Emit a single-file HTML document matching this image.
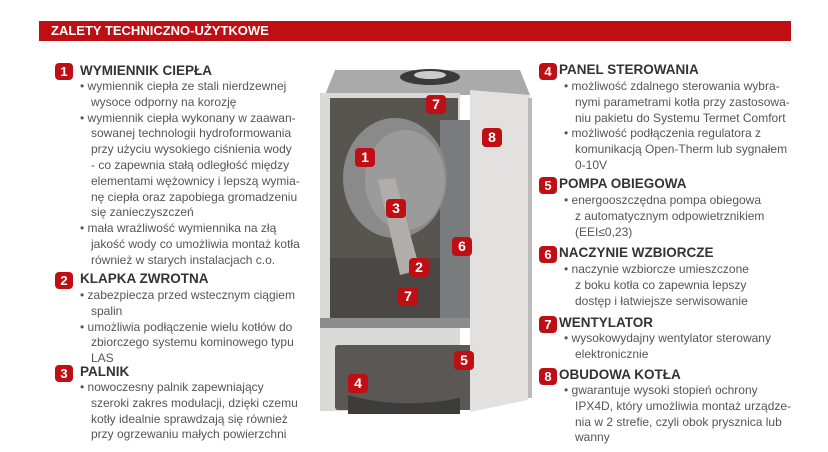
<!DOCTYPE html>
<html><head><meta charset="utf-8"><style>
body{margin:0;width:828px;height:452px;background:#fff;position:relative;overflow:hidden;font-family:"Liberation Sans",sans-serif;}
.bar{position:absolute;left:39px;top:21px;width:752px;height:20px;background:#c00f14;color:#fff;font-weight:bold;font-size:13px;line-height:20px;padding-left:12px;box-sizing:border-box;}
.h{position:absolute;font-weight:bold;font-size:13.5px;color:#333;line-height:16px;white-space:nowrap}
.b{position:absolute;width:18px;height:17px;background:#c00f14;border-radius:4px;color:#fff;font-weight:bold;font-size:13px;text-align:center;line-height:17px}
.t{position:absolute;font-size:12px;color:#555;line-height:15.8px;white-space:nowrap}
.t div{padding-left:11px;text-indent:-11px}
svg{position:absolute;left:0;top:0}
.m{position:absolute;width:20px;height:19px;background:#c00f14;border-radius:4px;color:#fff;font-weight:bold;font-size:14px;text-align:center;line-height:19px}
</style></head><body>
<div class="bar">ZALETY TECHNICZNO-UŻYTKOWE</div>

<svg width="828" height="452">
<path d="M325 95 L335 70 L520 70 L530 95 Z" fill="#a9aaa9"/>
<ellipse cx="430" cy="77" rx="30" ry="8" fill="#3a3a3a"/><ellipse cx="430" cy="75" rx="16" ry="4" fill="#ccc"/>
<rect x="320" y="93" width="140" height="318" fill="#d9d9d8"/>
<rect x="330" y="98" width="128" height="160" fill="#585450"/>
<rect x="330" y="258" width="128" height="60" fill="#4a4744"/>
<rect x="440" y="120" width="34" height="205" fill="#7a7b7c"/>
<ellipse cx="395" cy="178" rx="52" ry="60" fill="#8a8a8a"/>
<ellipse cx="405" cy="180" rx="40" ry="50" fill="#9b9b9b"/>
<path d="M378 180 L395 178 L420 270 L400 275 Z" fill="#b0aeab"/>
<rect x="320" y="318" width="155" height="10" fill="#8d8d8d"/>
<rect x="335" y="345" width="140" height="65" fill="#5a5754" rx="3"/>
<path d="M348 395 Q400 410 460 398 L460 414 L348 414 Z" fill="#3e3c3a"/>
<path d="M470 90 L530 95 L528 400 L470 412 Z" fill="#e3e1df"/>
<rect x="528" y="98" width="4" height="300" fill="#bbb"/>
</svg>
<div class="m" style="left:426px;top:95px">7</div>
<div class="m" style="left:482px;top:128px">8</div>
<div class="m" style="left:355px;top:148px">1</div>
<div class="m" style="left:386px;top:199px">3</div>
<div class="m" style="left:452px;top:237px">6</div>
<div class="m" style="left:409px;top:258px">2</div>
<div class="m" style="left:398px;top:287px">7</div>
<div class="m" style="left:454px;top:351px">5</div>
<div class="m" style="left:348px;top:374px">4</div>

<div class="b" style="left:55px;top:63px">1</div>
<div class="h" style="left:80px;top:63px">WYMIENNIK CIEPŁA</div>
<div class="t" style="left:80px;top:79px">
<div>• wymiennik ciepła ze stali nierdzewnej<br>wysoce odporny na korozję</div>
<div>• wymiennik ciepła wykonany w zaawan-<br>sowanej technologii hydroformowania<br>przy użyciu wysokiego ciśnienia wody<br>- co zapewnia stałą odległość między<br>elementami wężownicy i lepszą wymia-<br>nę ciepła oraz zapobiega gromadzeniu<br>się zanieczyszczeń</div>
<div>• mała wrażliwość wymiennika na złą<br>jakość wody co umożliwia montaż kotła<br>również w starych instalacjach c.o.</div>
</div>

<div class="b" style="left:55px;top:272px">2</div>
<div class="h" style="left:80px;top:271px">KLAPKA ZWROTNA</div>
<div class="t" style="left:80px;top:288px">
<div>• zabezpiecza przed wstecznym ciągiem<br>spalin</div>
<div>• umożliwia podłączenie wielu kotłów do<br>zbiorczego systemu kominowego typu<br>LAS</div>
</div>

<div class="b" style="left:55px;top:365px">3</div>
<div class="h" style="left:80px;top:364px">PALNIK</div>
<div class="t" style="left:80px;top:380px">
<div>• nowoczesny palnik zapewniający<br>szeroki zakres modulacji, dzięki czemu<br>kotły idealnie sprawdzają się również<br>przy ogrzewaniu małych powierzchni</div>
</div>

<div class="b" style="left:539px;top:63px">4</div>
<div class="h" style="left:559px;top:62px">PANEL STEROWANIA</div>
<div class="t" style="left:564px;top:79px">
<div>• możliwość zdalnego sterowania wybra-<br>nymi parametrami kotła przy zastosowa-<br>niu pakietu do Systemu Termet Comfort</div>
<div>• możliwość podłączenia regulatora z<br>komunikacją Open-Therm lub sygnałem<br>0-10V</div>
</div>

<div class="b" style="left:539px;top:177px">5</div>
<div class="h" style="left:559px;top:176px">POMPA OBIEGOWA</div>
<div class="t" style="left:564px;top:193px">
<div>• energooszczędna pompa obiegowa<br>z automatycznym odpowietrznikiem<br>(EEI≤0,23)</div>
</div>

<div class="b" style="left:539px;top:246px">6</div>
<div class="h" style="left:559px;top:245px">NACZYNIE WZBIORCZE</div>
<div class="t" style="left:564px;top:262px">
<div>• naczynie wzbiorcze umieszczone<br>z boku kotła co zapewnia lepszy<br>dostęp i łatwiejsze serwisowanie</div>
</div>

<div class="b" style="left:539px;top:316px">7</div>
<div class="h" style="left:559px;top:315px">WENTYLATOR</div>
<div class="t" style="left:564px;top:331px">
<div>• wysokowydajny wentylator sterowany<br>elektronicznie</div>
</div>

<div class="b" style="left:539px;top:368px">8</div>
<div class="h" style="left:559px;top:367px">OBUDOWA KOTŁA</div>
<div class="t" style="left:564px;top:383px">
<div>• gwarantuje wysoki stopień ochrony<br>IPX4D, który umożliwia montaż urządze-<br>nia w 2 strefie, czyli obok prysznica lub<br>wanny</div>
</div>
</body></html>
